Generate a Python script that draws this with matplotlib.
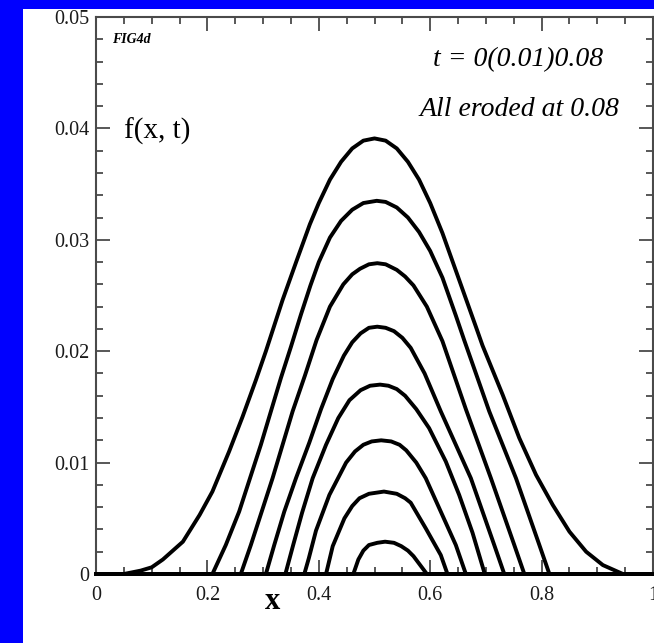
"""Erosion profiles f(x, t) for t = 0 to 0.08 in steps of 0.01."""

import matplotlib

matplotlib.use("Agg")
import matplotlib.pyplot as plt
from matplotlib.patches import Rectangle
from matplotlib.ticker import MultipleLocator

# profile values, one pair of lists per time level
x_t000 = [0.0, 0.05, 0.08, 0.10, 0.12, 0.156, 0.186, 0.209, 0.239, 0.263, 0.287,
          0.305, 0.335, 0.36, 0.384, 0.40, 0.42, 0.44, 0.46, 0.48, 0.50, 0.52,
          0.54, 0.56, 0.58, 0.60, 0.622, 0.652, 0.682, 0.694, 0.730, 0.760,
          0.790, 0.820, 0.850, 0.880, 0.910, 0.946, 1.0]
y_t000 = [0.0, 0.0, 0.0003, 0.0006, 0.0013, 0.0029, 0.0053, 0.0074, 0.0110,
          0.0141, 0.0174, 0.0200, 0.0246, 0.0281, 0.0314, 0.0333, 0.0354, 0.0370,
          0.0382, 0.0389, 0.0391, 0.0389, 0.0382, 0.0370, 0.0354, 0.0333, 0.0306,
          0.0264, 0.0222, 0.0205, 0.0161, 0.0122, 0.0089, 0.0062, 0.0038, 0.0020,
          0.0008, 0.0, 0.0]

x_t001 = [0.0, 0.209, 0.233, 0.257, 0.296, 0.332, 0.350, 0.368, 0.385, 0.40,
          0.42, 0.44, 0.46, 0.48, 0.504, 0.52, 0.54, 0.56, 0.58, 0.60, 0.622,
          0.646, 0.661, 0.706, 0.754, 0.796, 0.814, 1.0]
y_t001 = [0.0, 0.0, 0.0026, 0.0056, 0.0116, 0.0176, 0.0204, 0.0233, 0.0259,
          0.0280, 0.0302, 0.0317, 0.0327, 0.0333, 0.0335, 0.0334, 0.0329, 0.0320,
          0.0307, 0.0290, 0.0266, 0.0232, 0.0210, 0.0146, 0.0086, 0.0026, 0.0, 0.0]

x_t002 = [0.0, 0.260, 0.278, 0.317, 0.353, 0.375, 0.396, 0.42, 0.444, 0.46,
          0.474, 0.49, 0.505, 0.52, 0.54, 0.555, 0.570, 0.594, 0.622, 0.664,
          0.709, 0.751, 0.769, 1.0]
y_t002 = [0.0, 0.0, 0.0026, 0.0086, 0.0146, 0.0178, 0.0210, 0.0240, 0.0260,
          0.0269, 0.0274, 0.0278, 0.0279, 0.0278, 0.0273, 0.0267, 0.0259, 0.0240,
          0.0209, 0.0148, 0.0086, 0.0026, 0.0, 0.0]

x_t003 = [0.0, 0.305, 0.320, 0.338, 0.359, 0.383, 0.404, 0.425, 0.445, 0.46,
          0.475, 0.49, 0.505, 0.52, 0.535, 0.55, 0.565, 0.59, 0.619, 0.673,
          0.715, 0.733, 1.0]
y_t003 = [0.0, 0.0, 0.0026, 0.0056, 0.0086, 0.0118, 0.0148, 0.0175, 0.0196,
          0.0208, 0.0216, 0.0221, 0.0222, 0.0221, 0.0218, 0.0212, 0.0203, 0.0180,
          0.0146, 0.0086, 0.0026, 0.0, 0.0]

x_t004 = [0.0, 0.340, 0.354, 0.370, 0.389, 0.413, 0.435, 0.455, 0.475, 0.492,
          0.51, 0.525, 0.54, 0.555, 0.575, 0.598, 0.628, 0.652, 0.676, 0.698, 1.0]
y_t004 = [0.0, 0.0, 0.0026, 0.0055, 0.0086, 0.0116, 0.0140, 0.0156, 0.0165,
          0.0169, 0.0170, 0.0169, 0.0166, 0.0160, 0.0148, 0.0131, 0.0101, 0.0071,
          0.0037, 0.0, 0.0]

x_t005 = [0.0, 0.374, 0.382, 0.395, 0.419, 0.449, 0.465, 0.48, 0.495, 0.512,
          0.53, 0.545, 0.557, 0.575, 0.592, 0.619, 0.646, 0.664, 1.0]
y_t005 = [0.0, 0.0, 0.0014, 0.0039, 0.0071, 0.0100, 0.0110, 0.0116, 0.0119,
          0.0120, 0.0119, 0.0116, 0.0111, 0.0100, 0.0086, 0.0056, 0.0026, 0.0, 0.0]

x_t006 = [0.0, 0.413, 0.425, 0.446, 0.46, 0.473, 0.49, 0.517, 0.54, 0.555,
          0.565, 0.592, 0.619, 0.631, 1.0]
y_t006 = [0.0, 0.0, 0.0025, 0.0050, 0.0061, 0.0068, 0.0072, 0.0074, 0.0072,
          0.0068, 0.0064, 0.0041, 0.0017, 0.0, 0.0]

x_t007 = [0.0, 0.462, 0.471, 0.480, 0.49, 0.505, 0.519, 0.535, 0.548, 0.56,
          0.570, 0.594, 1.0]
y_t007 = [0.0, 0.0, 0.0013, 0.0021, 0.0026, 0.0028, 0.0029, 0.0028, 0.0025,
          0.0021, 0.0016, 0.0, 0.0]

x_t008 = [0.0, 1.0]
y_t008 = [0.0, 0.0]

x_ticks = [0, 0.2, 0.4, 0.6, 0.8, 1]
x_tick_labels = ["0", "0.2", "0.4", "0.6", "0.8", "1"]
y_ticks = [0, 0.01, 0.02, 0.03, 0.04, 0.05]
y_tick_labels = ["0", "0.01", "0.02", "0.03", "0.04", "0.05"]

profiles = [
    (x_t000, y_t000), (x_t001, y_t001), (x_t002, y_t002),
    (x_t003, y_t003), (x_t004, y_t004), (x_t005, y_t005),
    (x_t006, y_t006), (x_t007, y_t007), (x_t008, y_t008),
]

plt.rcParams["font.family"] = ["Liberation Serif", "DejaVu Serif"]

fig = plt.figure(figsize=(6.54, 6.43), dpi=100)
fig.patch.set_facecolor("#0000FF")
fig.add_artist(
    Rectangle((23 / 654, 0), 1 - 23 / 654, 634 / 643,
              transform=fig.transFigure, facecolor="white", edgecolor="none",
              zorder=0)
)

ax = fig.add_axes([96 / 654, 69 / 643, 557 / 654, 557 / 643])
ax.set_facecolor("white")

for xs, ys in profiles:
    ax.plot(xs, ys, color="black", linewidth=2.8, solid_joinstyle="round",
            clip_on=False, zorder=3)

ax.set_xlim(0, 1)
ax.set_ylim(0, 0.05)
ax.set_xticks(x_ticks)
ax.set_xticklabels(x_tick_labels)
ax.set_yticks(y_ticks)
ax.set_yticklabels(y_tick_labels)
ax.xaxis.set_minor_locator(MultipleLocator(0.05))
ax.yaxis.set_minor_locator(MultipleLocator(0.002))

spine_color = "#4a4a4a"
for spine in ax.spines.values():
    spine.set_color(spine_color)
    spine.set_linewidth(1.5)

ax.tick_params(which="both", direction="in", top=True, right=True,
               color=spine_color, width=1.3, labelsize=14.5,
               labelcolor="#1a1a1a")
ax.tick_params(which="major", length=10)
ax.tick_params(which="minor", length=5)
ax.tick_params(axis="x", pad=9)
ax.tick_params(axis="y", pad=5)

ax.text(0.028, 0.048, "FIG4d", fontsize=10, style="italic",
        fontweight="bold", va="center", ha="left")
ax.text(0.757, 0.0462, "t = 0(0.01)0.08", fontsize=20, style="italic",
        va="center", ha="center")
ax.text(0.761, 0.0417, "All eroded at 0.08", fontsize=20, style="italic",
        va="center", ha="center")
ax.text(0.051, 0.0397, "f(x, t)", fontsize=21, va="center", ha="left")
ax.text(0.316, -0.05, "x", fontsize=22, fontweight="bold",
        transform=ax.transAxes, va="center", ha="center")

fig.savefig("out.png", dpi=100, facecolor=fig.get_facecolor())
